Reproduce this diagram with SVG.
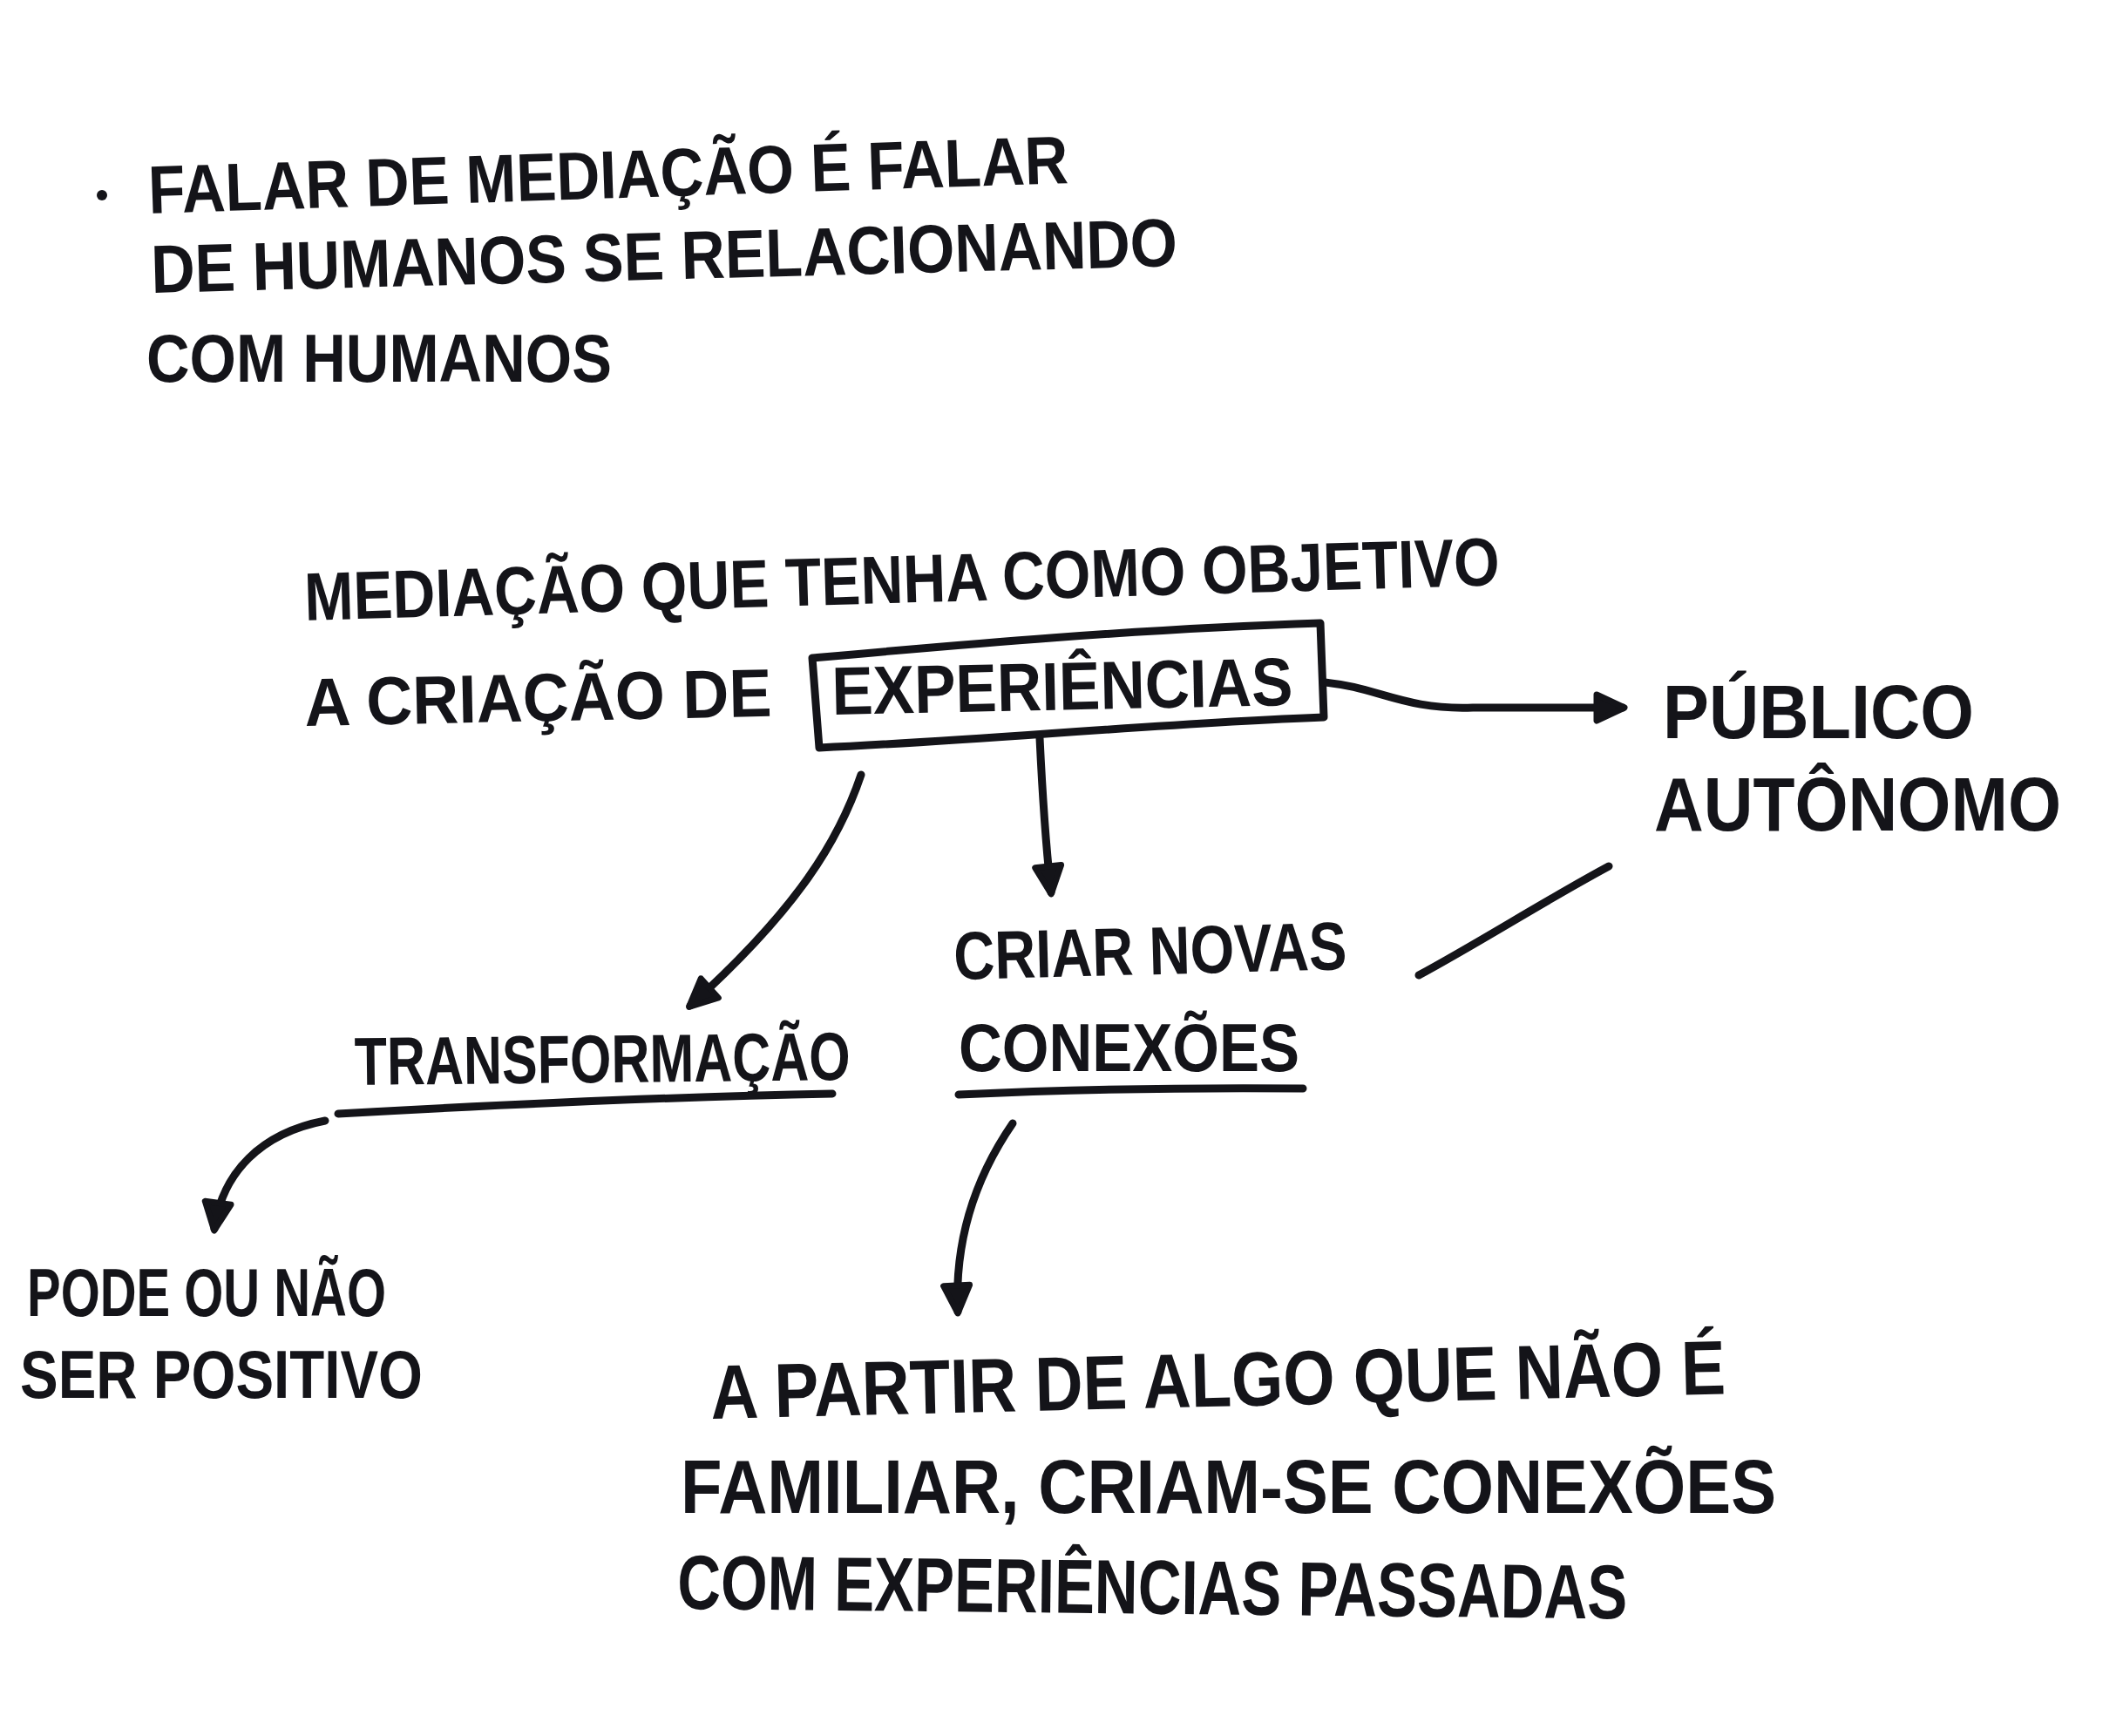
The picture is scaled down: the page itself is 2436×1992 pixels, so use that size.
<svg xmlns="http://www.w3.org/2000/svg" width="2436" height="1992" viewBox="0 0 2436 1992">
<defs>
<style>
.t{font-family:"Liberation Sans","DejaVu Sans",sans-serif;font-weight:bold;font-size:78px;fill:#141419;}
.big{font-size:88px;}
.ln{fill:none;stroke:#141419;stroke-width:9;stroke-linecap:round;stroke-linejoin:round;}
</style>
<marker id="ah" markerUnits="userSpaceOnUse" markerWidth="50" markerHeight="50" viewBox="0 0 50 50" refX="40" refY="25" orient="auto">
<path d="M10,10 L42,25 L10,40 Z" fill="#141419" stroke="#141419" stroke-width="7" stroke-linejoin="round"/>
</marker>
</defs>
<rect width="2436" height="1992" fill="#ffffff"/>

<g id="intro">
<circle cx="117" cy="224" r="6" fill="#141419"/>
<text class="t" x="171" y="245" textLength="1056" lengthAdjust="spacingAndGlyphs" transform="rotate(-1.9 171 245)">FALAR DE MEDIAÇÃO É FALAR</text>
<text class="t" x="174" y="336" textLength="1178" lengthAdjust="spacingAndGlyphs" transform="rotate(-1.5 174 336)">DE HUMANOS SE RELACIONANDO</text>
<text class="t" x="168" y="438" textLength="534" lengthAdjust="spacingAndGlyphs">COM HUMANOS</text>
</g>

<g id="mediacao">
<text class="t" x="350" y="712" textLength="1372" lengthAdjust="spacingAndGlyphs" transform="rotate(-1.7 350 712)">MEDIAÇÃO QUE TENHA COMO OBJETIVO</text>
<text class="t" x="350" y="833" textLength="536" lengthAdjust="spacingAndGlyphs" transform="rotate(-1.2 350 833)">A CRIAÇÃO DE</text>
</g>

<g id="experiencias">
<path class="ln" d="M932,755 C1100,740 1300,722 1515,715 L1519,823 C1330,830 1120,850 940,858 Z"/>
<text class="t" x="955" y="820" textLength="529" lengthAdjust="spacingAndGlyphs" transform="rotate(-1.2 955 820)">EXPERIÊNCIAS</text>
</g>

<g id="publico">
<text class="t big" x="1908" y="847" textLength="357" lengthAdjust="spacingAndGlyphs">PÚBLICO</text>
<text class="t big" x="1898" y="953" textLength="467" lengthAdjust="spacingAndGlyphs">AUTÔNOMO</text>
</g>

<g id="transformacao">
<text class="t" x="407" y="1245" textLength="569" lengthAdjust="spacingAndGlyphs" transform="rotate(-0.6 407 1245)">TRANSFORMAÇÃO</text>
<path class="ln" d="M388,1278 C600,1266 800,1258 955,1255"/>
</g>

<g id="conexoes">
<text class="t" x="1095" y="1124" textLength="451" lengthAdjust="spacingAndGlyphs" transform="rotate(-1.5 1095 1124)">CRIAR NOVAS</text>
<text class="t" x="1100" y="1229" textLength="391" lengthAdjust="spacingAndGlyphs">CONEXÕES</text>
<path class="ln" d="M1100,1256 C1230,1250 1380,1248 1495,1249"/>
</g>

<g id="pode">
<text class="t" x="31" y="1510" textLength="412" lengthAdjust="spacingAndGlyphs">PODE OU NÃO</text>
<text class="t" x="23" y="1604" textLength="462" lengthAdjust="spacingAndGlyphs">SER POSITIVO</text>
</g>

<g id="apartir">
<text class="t big" x="816" y="1628" textLength="1165" lengthAdjust="spacingAndGlyphs" transform="rotate(-1.4 816 1628)">A PARTIR DE ALGO QUE NÃO É</text>
<text class="t big" x="781" y="1736" textLength="1257" lengthAdjust="spacingAndGlyphs">FAMILIAR, CRIAM-SE CONEXÕES</text>
<text class="t big" x="777" y="1846" textLength="1090" lengthAdjust="spacingAndGlyphs" transform="rotate(0.6 777 1846)">COM EXPERIÊNCIAS PASSADAS</text>
</g>

<g id="connectors">
<path class="ln" d="M1519,783 C1580,788 1610,815 1690,812 L1862,812" marker-end="url(#ah)"/>
<path class="ln" d="M1193,847 C1196,910 1200,970 1206,1024" marker-end="url(#ah)"/>
<path class="ln" d="M988,889 C963,963 917,1041 792,1154" marker-end="url(#ah)"/>
<path class="ln" d="M1846,994 C1770,1035 1700,1080 1628,1119"/>
<path class="ln" d="M373,1286 C300,1300 255,1345 246,1410" marker-end="url(#ah)"/>
<path class="ln" d="M1162,1289 C1120,1350 1095,1420 1099,1505" marker-end="url(#ah)"/>
</g>
</svg>
